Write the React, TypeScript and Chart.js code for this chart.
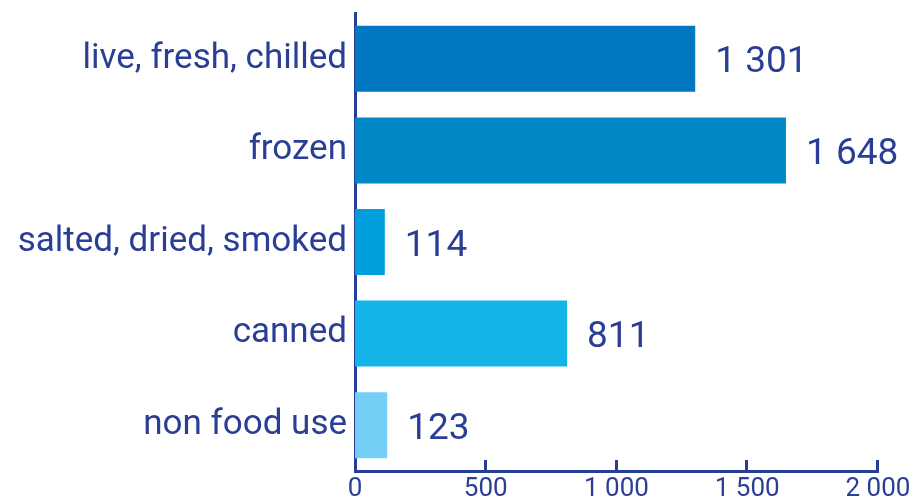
import React, { useEffect, useRef } from "react";
import { Chart, registerables } from "chart.js";

Chart.register(...registerables);

const categories = [
  "live, fresh, chilled",
  "frozen",
  "salted, dried, smoked",
  "canned",
  "non food use",
];
const values = [1301, 1648, 114, 811, 123];
const barColors = ["#0077C0", "#0088C6", "#009EDD", "#14B4E8", "#74CEF5"];
const xMin = 0;
const xMax = 2000;
const xStep = 500;

const TEXT = "#2A3E96";
const AXIS = "#253F98";
const FONT = "Roboto, 'DejaVu Sans', sans-serif";

const fmt = (v: number) => String(v).replace(/\B(?=(\d{3})+(?!\d))/g, " ");

const innerTicks = {
  id: "innerTicks",
  afterDraw(chart: any) {
    const { ctx, chartArea, scales } = chart;
    const xs = scales.x;
    ctx.save();
    ctx.strokeStyle = AXIS;
    ctx.lineWidth = 3;
    xs.ticks.forEach((t: any) => {
      if (t.value === xMin) return;
      const x = Math.round(xs.getPixelForValue(t.value)) - 0.5;
      ctx.beginPath();
      ctx.moveTo(x, chartArea.bottom + 1);
      ctx.lineTo(x, chartArea.bottom - 11);
      ctx.stroke();
    });
    ctx.restore();
  },
};

const valueLabels = {
  id: "valueLabels",
  afterDatasetsDraw(chart: any) {
    const { ctx } = chart;
    const meta = chart.getDatasetMeta(0);
    ctx.save();
    ctx.fillStyle = TEXT;
    ctx.font = `37px ${FONT}`;
    ctx.textAlign = "left";
    ctx.textBaseline = "alphabetic";
    meta.data.forEach((bar: any, i: number) => {
      ctx.fillText(fmt(values[i]), bar.x + 20, bar.y + 13.5);
    });
    ctx.restore();
  },
};

export default function App() {
  const ref = useRef<HTMLCanvasElement | null>(null);

  useEffect(() => {
    if (!ref.current) return;
    const chart = new Chart(ref.current, {
      type: "bar",
      data: {
        labels: categories,
        datasets: [
          {
            data: values,
            backgroundColor: barColors,
            borderWidth: 0,
            categoryPercentage: 0.72,
            barPercentage: 1,
          },
        ],
      },
      options: {
        indexAxis: "y",
        animation: false,
        responsive: true,
        maintainAspectRatio: false,
        layout: { padding: { left: 0, top: 13, right: 37, bottom: 0 } },
        plugins: {
          legend: { display: false },
          tooltip: { enabled: false },
        },
        scales: {
          x: {
            type: "linear",
            min: xMin,
            max: xMax,
            ticks: {
              stepSize: xStep,
              callback: (v: any) => fmt(Number(v)),
              color: TEXT,
              font: { family: FONT, size: 26 },
              padding: 3,
              maxRotation: 0,
            },
            grid: { display: false, drawTicks: false, tickLength: 0 },
            border: { display: true, color: AXIS, width: 3 },
            afterFit: (s: any) => {
              s.height = 27;
              s.paddingLeft = 0;
              s.paddingRight = 0;
            },
          },
          y: {
            type: "category",
            ticks: {
              color: TEXT,
              font: { family: FONT, size: 35 },
              padding: 8,
            },
            grid: { display: false, drawTicks: false, tickLength: 0 },
            border: { display: true, color: AXIS, width: 3 },
            afterFit: (s: any) => {
              s.width = 355;
              s.paddingTop = 0;
              s.paddingBottom = 0;
            },
          },
        },
      },
      plugins: [innerTicks, valueLabels],
    });
    return () => chart.destroy();
  }, []);

  return (
    <div
      style={{
        position: "fixed",
        left: 0,
        top: 0,
        width: 915,
        height: 498,
        background: "#ffffff",
      }}
    >
      <canvas ref={ref} />
    </div>
  );
}
